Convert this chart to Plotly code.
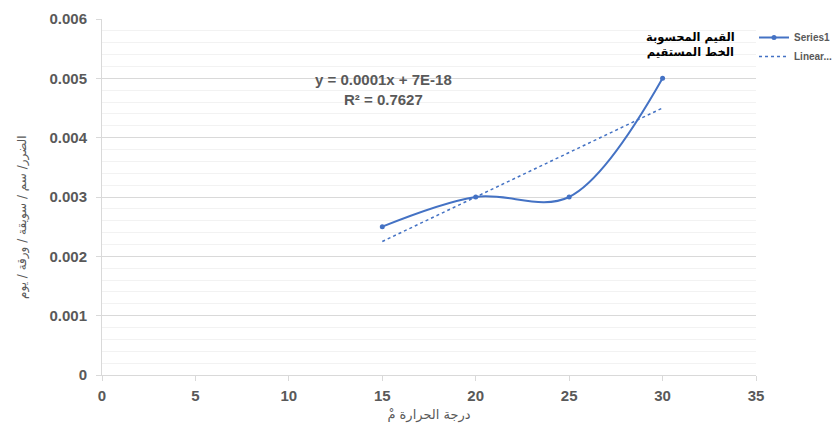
import numpy as np
import plotly.graph_objects as go

temps = [15, 20, 25, 30]
damage = [0.0025, 0.003, 0.003, 0.005]
x_ticks = [0, 5, 10, 15, 20, 25, 30, 35]
y_ticks = [0, 0.001, 0.002, 0.003, 0.004, 0.005, 0.006]
y_tick_labels = ["0", "0.001", "0.002", "0.003", "0.004", "0.005", "0.006"]

slope, intercept = np.polyfit(temps, damage, 1)
trend_x = [temps[0], temps[-1]]
trend_y = [slope * v + intercept for v in trend_x]

blue = "#4472C4"
gray = "#595959"
L, R, T, B = 102, 81, 19, 51
PW, PH = 837 - L - R, 426 - T - B


def px(xp):
    return (xp - L) / PW


def py(yp):
    return (426 - B - yp) / PH


fig = go.Figure()
fig.add_trace(go.Scatter(
    x=temps, y=damage, mode="lines+markers", name="Series1",
    line=dict(color=blue, width=2, shape="spline", smoothing=1.0),
    marker=dict(color=blue, size=5),
))
fig.add_trace(go.Scatter(
    x=trend_x, y=trend_y, mode="lines", name="Linear...",
    line=dict(color=blue, width=1.5, dash="dot"),
))

fig.update_layout(
    width=837, height=426,
    margin=dict(l=L, r=R, t=T, b=B, autoexpand=False),
    paper_bgcolor="white", plot_bgcolor="white",
    font=dict(family="Liberation Sans, DejaVu Sans", color=gray),
    legend=dict(x=1 - 2 / PW, y=1 - 4 / PH, xanchor="left", yanchor="top",
                font=dict(size=10, color=gray, weight="bold"), bgcolor="rgba(0,0,0,0)",
                itemwidth=30, tracegroupgap=0),
    xaxis=dict(range=[0, 35], tickvals=x_ticks, showgrid=False,
               showline=True, linecolor="#d9d9d9", linewidth=1,
               ticks="outside", ticklen=5, tickcolor="#d9d9d9",
               tickfont=dict(size=15, color=gray, family="Liberation Sans", weight="bold"),
               ticklabelstandoff=2,
               zeroline=False, automargin=False,
               title=dict(text="درجة الحرارة مْ", font=dict(size=13, color=gray, family="DejaVu Sans"), standoff=6)),
    yaxis=dict(range=[0, 0.006], tickvals=y_ticks, ticktext=y_tick_labels,
               showgrid=True, gridcolor="#d9d9d9", gridwidth=1,
               minor=dict(dtick=0.0002, showgrid=True, gridcolor="#f2f2f2", gridwidth=1),
               showline=True, linecolor="#d9d9d9", linewidth=1,
               ticks="outside", ticklen=5, tickcolor="#d9d9d9",
               tickfont=dict(size=15, color=gray, family="Liberation Sans", weight="bold"),
               ticklabelstandoff=6,
               zeroline=False, automargin=False),
)

fig.add_annotation(
    xref="paper", yref="paper", x=px(22), y=py(217), xanchor="center", yanchor="middle",
    text="الضرر/ سم / سويقة / ورقة / يوم", showarrow=False, textangle=-90,
    font=dict(size=12, color=gray, family="DejaVu Sans"),
)
fig.add_annotation(
    xref="paper", yref="paper", x=px(690), y=py(44), xanchor="center", yanchor="middle",
    text="<b>القيم المحسوبة<br>الخط المستقيم</b>", showarrow=False,
    font=dict(size=11.5, color="black", family="DejaVu Sans"), align="center",
)
fig.add_annotation(
    xref="paper", yref="paper", x=px(383), y=py(89), xanchor="center", yanchor="middle",
    text="<b>y = 0.0001x + 7E-18<br>R² = 0.7627</b>", showarrow=False,
    font=dict(size=15, color=gray, family="Liberation Sans"), align="center",
)

fig.write_html("out.html")
